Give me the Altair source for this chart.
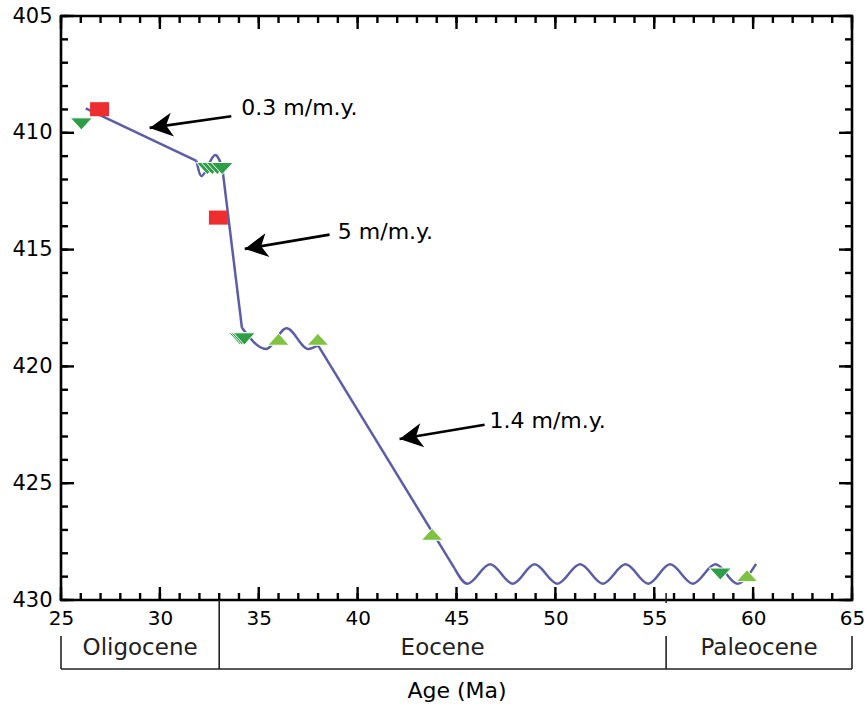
import math
import altair as alt
import pandas as pd

W, H = 791, 584
X_DOMAIN = [25, 65]
Y_DOMAIN = [405, 430]
FONT = "DejaVu Sans"

# ---------------- data ----------------
# straight parts of the age-depth line
straight_seg = ["a", "a", "b", "b", "c", "c"]
straight_age = [26.25, 31.85, 33.15, 34.15, 38.0, 44.9]
straight_depth = [408.95, 411.2, 411.45, 418.35, 419.1, 428.65]

# wavy (hiatus) parts of the line: turning points
wavy_seg = ["u1"] * 4 + ["u2"] * 5 + ["u3"] * 15
wavy_age = [31.85, 32.1, 32.8, 33.15,
            34.15, 35.37, 36.41, 37.5, 38.0,
            44.9, 45.55, 46.7, 47.85, 48.95, 50.1, 51.25, 52.4, 53.55,
            54.7, 55.8, 56.95, 58.1, 59.2, 60.15]
wavy_depth = [411.2, 411.85, 410.95, 411.45,
              418.35, 419.25, 418.37, 419.25, 419.1,
              428.65, 429.3, 428.47, 429.3, 428.47, 429.3, 428.47, 429.3, 428.47,
              429.3, 428.47, 429.3, 428.47, 429.3, 428.45]

# datums
red_age = [26.95, 32.96]
red_depth = [408.99, 413.63]
dkgreen_age = [26.03, 32.4, 32.65, 32.9, 33.15, 34.05, 34.15, 34.27, 58.34]
dkgreen_depth = [409.62, 411.53, 411.53, 411.53, 411.53, 418.82, 418.82, 418.82, 428.89]
ltgreen_age = [36.0, 37.99, 43.77, 59.69]
ltgreen_depth = [418.84, 418.84, 427.19, 428.96]

# rate annotations
rate_labels = ["0.3 m/m.y.", "5 m/m.y.", "1.4 m/m.y."]
label_age = [34.12, 39.0, 46.67]
label_depth = [408.92, 414.25, 422.32]
tip_age = [29.48, 34.29, 42.12]
tip_depth = [409.79, 414.97, 423.11]
tail_age = [33.61, 38.58, 46.42]
tail_depth = [409.29, 414.36, 422.50]

# epochs
epoch_names = ["Oligocene", "Eocene", "Paleocene"]
epoch_start = [25.0, 33.0, 55.6]
epoch_end = [33.0, 55.6, 65.0]

# ticks
x_minor = list(range(25, 66))
x_major = list(range(25, 66, 5))
y_minor = list(range(405, 431))
y_major = list(range(405, 431, 5))

# ---------------- helpers ----------------
xs = alt.Scale(domain=X_DOMAIN, nice=False, zero=False)
ys = alt.Scale(domain=Y_DOMAIN, reverse=True, nice=False, zero=False)

X_AXIS = alt.Axis(
    values=x_major, domain=False, ticks=False, grid=False, tickSize=0,
    labelFont=FONT, labelFontSize=20, labelColor="black", labelPadding=8,
    labelFlush=False, labelOverlap=False,
    title="Age (Ma)", titleFont=FONT, titleFontSize=22, titleFontWeight="normal",
    titleColor="black", titleY=90, titleBaseline="middle")
Y_AXIS = alt.Axis(
    values=y_major, domain=False, ticks=False, grid=False, tickSize=0,
    labelFont=FONT, labelFontSize=21, labelColor="black", labelPadding=9,
    labelFlush=False, labelOverlap=False, title="")

def X(field, **kw):
    return alt.X(field, type="quantitative", scale=xs, axis=X_AXIS, **kw)

def Y(field, **kw):
    return alt.Y(field, type="quantitative", scale=ys, axis=Y_AXIS, **kw)

LINE_COLOR = "#5B5EA6"

straight_df = pd.DataFrame({"seg": straight_seg, "age": straight_age, "depth": straight_depth})
wavy_df = pd.DataFrame({"seg": wavy_seg, "age": wavy_age, "depth": wavy_depth})

straight = alt.Chart(straight_df).mark_line(color=LINE_COLOR, strokeWidth=2.5).encode(
    x=X("age"), y=Y("depth"), detail="seg:N")

wavy = alt.Chart(wavy_df).mark_line(color=LINE_COLOR, strokeWidth=2.5, interpolate="monotone").encode(
    x=X("age"), y=Y("depth"), detail="seg:N")

SQUARE = "M -1 -0.74 L 1 -0.74 L 1 0.74 L -1 0.74 Z"
TDOWN = "M -1 -0.55 L 1 -0.55 L 0 0.55 Z"
TUP = "M -1 0.55 L 1 0.55 L 0 -0.55 Z"
HEAD = "M 0 0 L 2 -1.05 L 1.45 0 L 2 1.05 Z"

red = alt.Chart(pd.DataFrame({"age": red_age, "depth": red_depth})).mark_point(
    shape=SQUARE, size=361, filled=True, color="#EE2D2F", opacity=1, strokeWidth=0
).encode(x=X("age"), y=Y("depth"))

dk = alt.Chart(pd.DataFrame({"age": dkgreen_age, "depth": dkgreen_depth})).mark_point(
    shape=TDOWN, size=484, filled=True, fill="#2F9E48", opacity=1, stroke="white", strokeWidth=1
).encode(x=X("age"), y=Y("depth"))

lt = alt.Chart(pd.DataFrame({"age": ltgreen_age, "depth": ltgreen_depth})).mark_point(
    shape=TUP, size=467, filled=True, fill="#80C342", opacity=1, stroke="white", strokeWidth=1
).encode(x=X("age"), y=Y("depth"))

# arrows
px_x = W / (X_DOMAIN[1] - X_DOMAIN[0])
px_y = H / (Y_DOMAIN[1] - Y_DOMAIN[0])
angles = []
for ta, td, ha, hd in zip(tail_age, tail_depth, tip_age, tip_depth):
    dx = (ta - ha) * px_x
    dy = (td - hd) * px_y
    angles.append(math.degrees(math.atan2(dy, dx)) % 360)

arrow_df = pd.DataFrame({"tip_age": tip_age, "tip_depth": tip_depth,
                         "tail_age": tail_age, "tail_depth": tail_depth,
                         "angle": angles})
shafts = alt.Chart(arrow_df).mark_rule(color="black", strokeWidth=2.6).encode(
    x=X("tail_age"), y=Y("tail_depth"), x2="tip_age", y2="tip_depth")
heads = alt.Chart(arrow_df).mark_point(
    shape=HEAD, size=529, filled=True, color="black", opacity=1, strokeWidth=0
).encode(x=X("tip_age"), y=Y("tip_depth"),
         angle=alt.Angle("angle:Q", scale=None))

labels = alt.Chart(pd.DataFrame({"age": label_age, "depth": label_depth, "t": rate_labels})).mark_text(
    align="left", baseline="middle", font=FONT, fontSize=22, color="black"
).encode(x=X("age"), y=Y("depth"), text="t:N")

# ticks (inward, on all four sides)
TK = dict(color="black", strokeWidth=2.4)
xmin_df = pd.DataFrame({"v": x_minor})
xmaj_df = pd.DataFrame({"v": x_major})
ymin_df = pd.DataFrame({"v": y_minor})
ymaj_df = pd.DataFrame({"v": y_major})
ticks = [
    alt.Chart(xmin_df).mark_rule(**TK).encode(x=X("v"), y=alt.value(H), y2=alt.value(H - 7)),
    alt.Chart(xmaj_df).mark_rule(**TK).encode(x=X("v"), y=alt.value(H), y2=alt.value(H - 13)),
    alt.Chart(xmin_df).mark_rule(**TK).encode(x=X("v"), y=alt.value(0), y2=alt.value(7)),
    alt.Chart(xmaj_df).mark_rule(**TK).encode(x=X("v"), y=alt.value(0), y2=alt.value(13)),
    alt.Chart(ymin_df).mark_rule(**TK).encode(y=Y("v"), x=alt.value(0), x2=alt.value(7)),
    alt.Chart(ymaj_df).mark_rule(**TK).encode(y=Y("v"), x=alt.value(0), x2=alt.value(13)),
    alt.Chart(ymin_df).mark_rule(**TK).encode(y=Y("v"), x=alt.value(W), x2=alt.value(W - 7)),
    alt.Chart(ymaj_df).mark_rule(**TK).encode(y=Y("v"), x=alt.value(W), x2=alt.value(W - 13)),
]

# epoch bar below the axis
EP = dict(color="#222222", strokeWidth=1.6)
ep_df = pd.DataFrame({"name": epoch_names, "start": epoch_start, "end": epoch_end,
                      "mid": [(a + b) / 2 for a, b in zip(epoch_start, epoch_end)]})
outer_df = pd.DataFrame({"v": [epoch_start[0], epoch_start[2], epoch_end[2]]})
inner_df = pd.DataFrame({"v": [epoch_start[1]]})
stub_df = pd.DataFrame({"v": [epoch_start[2]]})
epochs = [
    alt.Chart(outer_df).mark_rule(**EP).encode(x=X("v"), y=alt.value(620), y2=alt.value(653)),
    alt.Chart(inner_df).mark_rule(**EP).encode(x=X("v"), y=alt.value(H), y2=alt.value(653)),
    alt.Chart(stub_df).mark_rule(**EP).encode(x=X("v"), y=alt.value(H - 7), y2=alt.value(H + 3)),
    alt.Chart(pd.DataFrame({"a": [epoch_start[0]], "b": [epoch_end[2]]})).mark_rule(**EP).encode(
        x=X("a"), x2="b", y=alt.value(653)),
    alt.Chart(ep_df).mark_text(font=FONT, fontSize=23, color="#222222", baseline="middle").encode(
        x=X("mid"), y=alt.value(632), text="name:N"),
]

chart = alt.layer(
    straight, wavy, *ticks, *epochs, shafts, heads, labels, red, dk, lt
).properties(
    width=W, height=H,
    autosize=alt.AutoSizeParams(type="none"),
    padding={"left": 61, "top": 16, "right": 16, "bottom": 119},
    background="white",
).configure_view(stroke="black", strokeWidth=2.6)

chart.save("out.html", embed_options={"renderer": "svg", "actions": False})
